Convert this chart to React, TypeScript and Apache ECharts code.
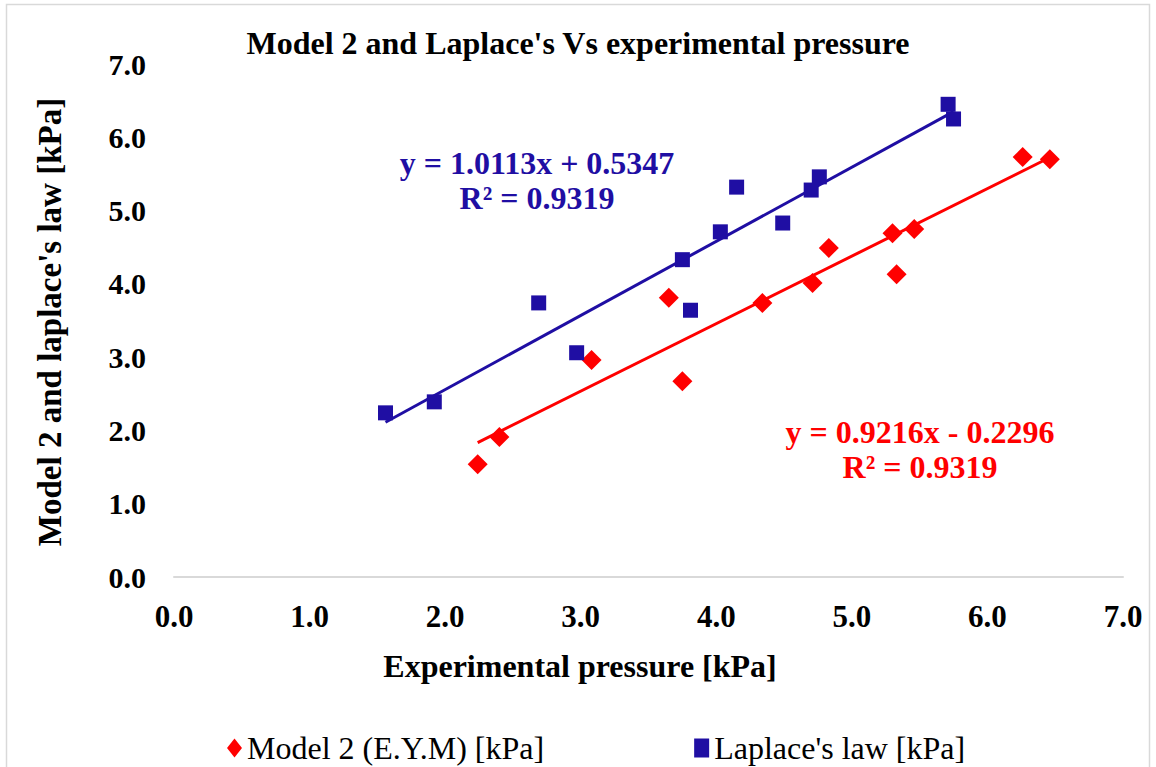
import React, { useEffect, useRef } from "react";
import * as echarts from "echarts";

// Model 2 (E.Y.M) predictions against experimental pressure [kPa]
const modelX = [2.24, 2.4, 3.08, 3.65, 3.75, 4.34, 4.71, 4.83, 5.3, 5.33, 5.46, 6.26, 6.46];
const modelY = [1.54, 1.91, 2.96, 3.81, 2.67, 3.74, 4.01, 4.49, 4.69, 4.13, 4.75, 5.73, 5.7];

// Laplace's law predictions against experimental pressure [kPa]
const laplaceX = [1.56, 1.92, 2.69, 2.97, 3.75, 3.81, 4.03, 4.15, 4.49, 4.7, 4.76, 5.71, 5.75];
const laplaceY = [2.24, 2.39, 3.74, 3.06, 4.33, 3.64, 4.71, 5.32, 4.83, 5.28, 5.46, 6.45, 6.25];

// Linear trendline coefficients: [slope, intercept, R²]
const modelFit = [0.9216, -0.2296, 0.9319];
const laplaceFit = [1.0113, 0.5347, 0.9319];

const axisTicks = [0, 1, 2, 3, 4, 5, 6, 7];

const SERIF = '"Liberation Serif", "Times New Roman", Times, serif';
const RED = "#FF0000";
const BLUE = "#1F0EA3";

function trend(xs: number[], fit: number[]) {
  const lo = Math.min(...xs);
  const hi = Math.max(...xs);
  return [lo, hi].map((x) => [x, fit[0] * x + fit[1]]);
}

function fmtSigned(v: number) {
  return v < 0 ? `- ${Math.abs(v).toFixed(4)}` : `+ ${v.toFixed(4)}`;
}

export default function App() {
  const ref = useRef<HTMLDivElement>(null);

  useEffect(() => {
    if (!ref.current) return;
    const chart = echarts.init(ref.current, undefined, { renderer: "svg" });

    const pairs = (xs: number[], ys: number[]) => xs.map((x, i) => [x, ys[i]]);

    chart.setOption({
      animation: false,
      backgroundColor: "#FFFFFF",
      title: {
        text: "Model 2 and Laplace's Vs experimental pressure",
        left: "center",
        top: 22,
        textStyle: { fontFamily: SERIF, fontSize: 32, fontWeight: "bold", color: "#000" },
      },
      grid: { left: 174, right: 33, top: 64, bottom: 190, containLabel: false },
      xAxis: {
        type: "value",
        min: axisTicks[0],
        max: axisTicks[axisTicks.length - 1],
        interval: 1,
        axisLine: { show: true, lineStyle: { color: "#D9D9D9", width: 2 } },
        axisTick: { show: false },
        splitLine: { show: false },
        axisLabel: {
          margin: 24,
          formatter: (v: number) => v.toFixed(1),
          fontFamily: SERIF,
          fontSize: 31,
          fontWeight: "bold",
          color: "#000",
        },
      },
      yAxis: {
        type: "value",
        min: axisTicks[0],
        max: axisTicks[axisTicks.length - 1],
        interval: 1,
        axisLine: { show: false },
        axisTick: { show: false },
        splitLine: { show: false },
        axisLabel: {
          margin: 28,
          formatter: (v: number) => v.toFixed(1),
          fontFamily: SERIF,
          fontSize: 30,
          fontWeight: "bold",
          color: "#000",
        },
      },
      legend: {
        left: 222,
        top: 727,
        itemGap: 150,
        itemWidth: 15,
        itemHeight: 19,
        textStyle: { fontFamily: SERIF, fontSize: 32, color: "#000" },
        data: [
          { name: "Model 2 (E.Y.M) [kPa]", icon: "diamond" },
          { name: "Laplace's law [kPa]", icon: "rect" },
        ],
      },
      series: [
        {
          name: "Model 2 (E.Y.M) trend",
          type: "line",
          data: trend(modelX, modelFit),
          showSymbol: false,
          symbol: "none",
          lineStyle: { color: RED, width: 3 },
          z: 2,
        },
        {
          name: "Laplace's law trend",
          type: "line",
          data: trend(laplaceX, laplaceFit),
          showSymbol: false,
          symbol: "none",
          lineStyle: { color: BLUE, width: 3 },
          z: 2,
        },
        {
          name: "Model 2 (E.Y.M) [kPa]",
          type: "scatter",
          data: pairs(modelX, modelY),
          symbol: "diamond",
          symbolSize: 20,
          itemStyle: { color: RED, opacity: 1 },
          z: 3,
        },
        {
          name: "Laplace's law [kPa]",
          type: "scatter",
          data: pairs(laplaceX, laplaceY),
          symbol: "rect",
          symbolSize: 15,
          itemStyle: { color: BLUE, opacity: 1 },
          z: 3,
        },
      ],
      graphic: [
        {
          type: "rect",
          silent: true,
          shape: { x: 6.5, y: 4.5, width: 1143, height: 800 },
          style: { fill: "none", stroke: "#D9D9D9", lineWidth: 1.5 },
          z: -1,
        },
        {
          type: "text",
          x: 50,
          y: 322,
          rotation: Math.PI / 2,
          style: {
            text: "Model 2 and laplace's law [kPa]",
            font: `bold 33px ${SERIF}`,
            fill: "#000",
            align: "center",
            verticalAlign: "middle",
          },
        },
        {
          type: "text",
          x: 580,
          y: 666,
          style: {
            text: "Experimental pressure [kPa]",
            font: `bold 32px ${SERIF}`,
            fill: "#000",
            align: "center",
            verticalAlign: "middle",
          },
        },
        {
          type: "text",
          x: 537,
          y: 180,
          style: {
            text: `y = ${laplaceFit[0].toFixed(4)}x ${fmtSigned(laplaceFit[1])}\nR² = ${laplaceFit[2].toFixed(4)}`,
            font: `bold 32px ${SERIF}`,
            lineHeight: 35,
            fill: BLUE,
            align: "center",
            verticalAlign: "middle",
          },
        },
        {
          type: "text",
          x: 920,
          y: 449,
          style: {
            text: `y = ${modelFit[0].toFixed(4)}x ${fmtSigned(modelFit[1])}\nR² = ${modelFit[2].toFixed(4)}`,
            font: `bold 32px ${SERIF}`,
            lineHeight: 35,
            fill: RED,
            align: "center",
            verticalAlign: "middle",
          },
        },
      ],
    });

    return () => chart.dispose();
  }, []);

  return (
    <div
      ref={ref}
      style={{ position: "fixed", left: 0, top: 0, width: 1156, height: 767 }}
    />
  );
}
